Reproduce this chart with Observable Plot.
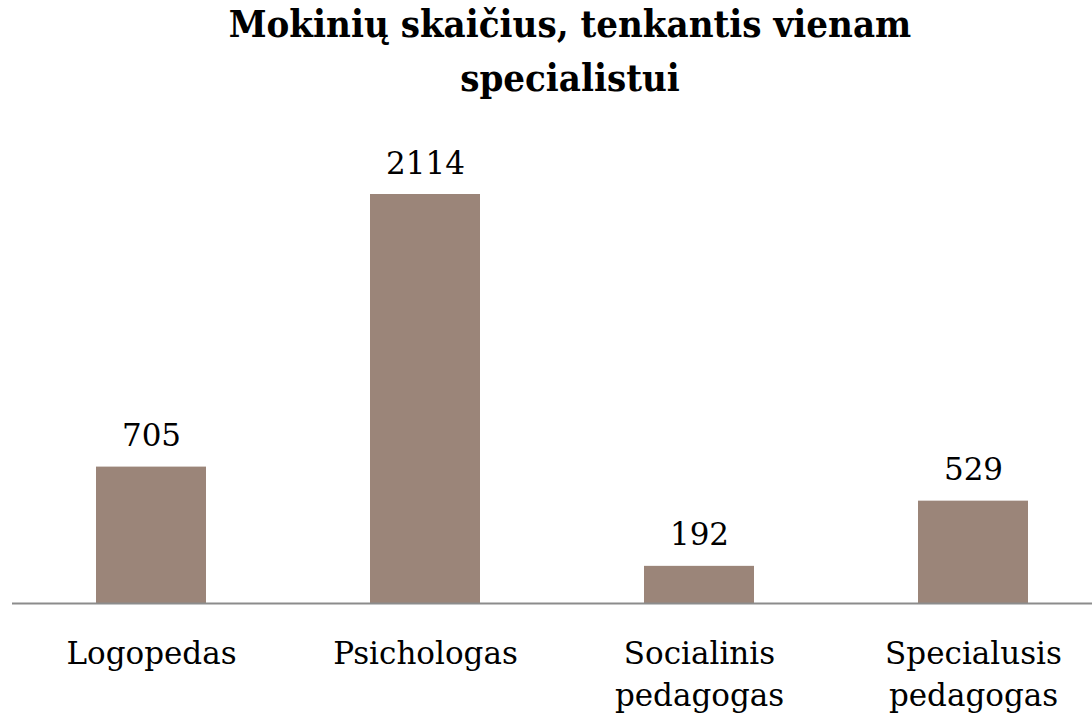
<!DOCTYPE html>
<html>
<head>
<meta charset="utf-8">
<script src="https://cdn.jsdelivr.net/npm/d3@7"></script>
<script src="https://cdn.jsdelivr.net/npm/@observablehq/plot@0.6"></script>
<style>
  html, body { margin: 0; padding: 0; background: #fff; overflow: hidden; }
  #wrap { position: relative; width: 1092px; height: 715px; }
  #title {
    position: absolute; left: 0; top: -3px; width: 1140px; text-align: center;
    font-family: "DejaVu Serif Condensed", "DejaVu Serif", serif; font-stretch: condensed;
    font-weight: bold; font-size: 38px; line-height: 54px; color: #000;
  }
  #chart { position: absolute; left: 0; top: 0; }
</style>
</head>
<body>
<div id="wrap">
  <div id="chart"></div>
  <div id="title">Mokinių skaičius, tenkantis vienam<br>specialistui</div>
</div>
<script>
const categories = ["Logopedas", "Psichologas", "Socialinis pedagogas", "Specialusis pedagogas"];
const tickLine1 = ["Logopedas", "Psichologas", "Socialinis", "Specialusis"];
const tickLine2 = ["", "", "pedagogas", "pedagogas"];
const values = [705, 2114, 192, 529];

const data = categories.map((c, i) => ({category: c, line1: tickLine1[i], line2: tickLine2[i], value: values[i]}));

const fontFamily = "'DejaVu Serif', serif";
const chart = Plot.plot({
  width: 1092,
  height: 715,
  marginLeft: 12,
  marginRight: 0,
  marginTop: 0,
  marginBottom: 0,
  style: {fontFamily, background: "transparent"},
  x: {domain: categories, range: [12.5, 1110.5], paddingInner: 0.6, paddingOuter: 0.3, align: 0.5, axis: null},
  y: {domain: [0, 2500], range: [603, 603 - 2500 * 409 / 2114], axis: null},
  marks: [
    Plot.barY(data, {x: "category", y: "value", fill: "#9b8579"}),
    Plot.ruleY([0], {stroke: "#8c8c8c", strokeWidth: 2}),
    Plot.text(data, {x: "category", y: "value", text: d => String(d.value), dy: -21, lineAnchor: "bottom", fontSize: 31, fill: "#000"}),
    Plot.text(data, {x: "category", y: 0, text: "line1", dy: 60, lineAnchor: "bottom", fontSize: 31, fill: "#000"}),
    Plot.text(data.filter(d => d.line2), {x: "category", y: 0, text: "line2", dy: 102, lineAnchor: "bottom", fontSize: 31, fill: "#000"})
  ]
});
document.getElementById("chart").appendChild(chart);
</script>
</body>
</html>
